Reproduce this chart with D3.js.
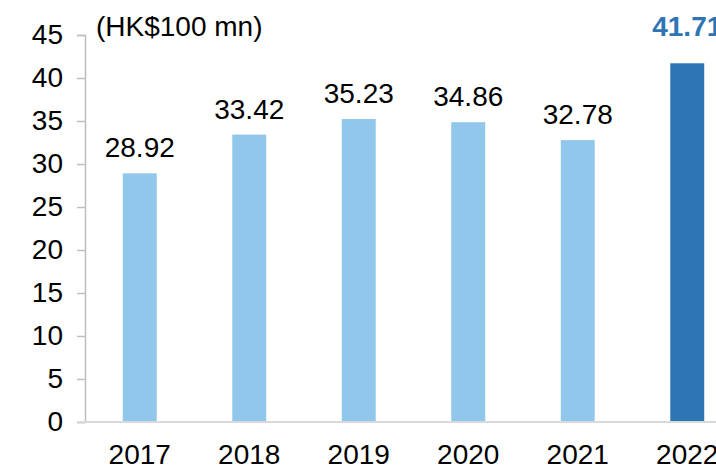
<!DOCTYPE html>
<html>
<head>
<meta charset="utf-8">
<script src="https://cdn.jsdelivr.net/npm/d3@7"></script>
<style>
  body { margin: 0; background: #fff; }
  svg { display: block; font-family: "Liberation Sans", Arial, sans-serif; }
</style>
</head>
<body>
<div id="chart"></div>
<script>
const years = ['2017', '2018', '2019', '2020', '2021', '2022']
const values = [28.92, 33.42, 35.23, 34.86, 32.78, 41.71]
const yTicks = [0, 5, 10, 15, 20, 25, 30, 35, 40, 45]
const unitLabel = '(HK$100 mn)'

const width = 716,
      height = 470,
      plotLeft = 85,
      plotTop = 35,
      plotBottom = 422,
      step = 109.5,
      fontSize = 28

const xScale = d3.scaleBand()
                 .domain(years)
                 .range([plotLeft, plotLeft + step * years.length])
                 .paddingInner(0.69)
                 .paddingOuter(0.345)

const yScale = d3.scaleLinear()
                 .domain([0, 45])
                 .range([plotBottom, plotTop])

const svg = d3.select('#chart')
              .append('svg')
              .attr('width', width)
              .attr('height', height)

// bars
svg.selectAll('rect')
   .data(values)
   .enter()
   .append('rect')
   .attr('x', (d, i) => xScale(years[i]))
   .attr('y', d => yScale(d))
   .attr('width', xScale.bandwidth())
   .attr('height', d => plotBottom - yScale(d))
   .attr('fill', (d, i) => i === years.length - 1 ? '#2E75B6' : '#92C7EC')

// y axis
const yAxis = d3.axisLeft(yScale)
                .tickValues(yTicks)
                .tickSize(8)
                .tickPadding(14)
svg.append('g')
   .attr('transform', 'translate(' + plotLeft + ',0)')
   .call(yAxis)
   .call(g => {
     g.select('.domain').attr('stroke', '#bfbfbf').attr('stroke-width', 1.5)
     g.selectAll('.tick line').attr('stroke', '#bfbfbf').attr('stroke-width', 1.5)
     g.selectAll('.tick text').attr('font-size', fontSize).attr('fill', '#000').attr('font-family', null)
   })

// x axis
const xAxis = d3.axisBottom(xScale).tickSize(0).tickPadding(22)
svg.append('g')
   .attr('transform', 'translate(0,' + plotBottom + ')')
   .call(xAxis)
   .call(g => {
     g.select('.domain').remove()
     g.selectAll('.tick text').attr('font-size', fontSize).attr('fill', '#000').attr('font-family', null)
   })
svg.append('line')
   .attr('x1', plotLeft - 8).attr('x2', width)
   .attr('y1', plotBottom).attr('y2', plotBottom)
   .attr('stroke', '#d9d9d9').attr('stroke-width', 2)

// value labels
svg.selectAll('.value')
   .data(values)
   .enter()
   .append('text')
   .attr('class', 'value')
   .attr('x', (d, i) => xScale(years[i]) + xScale.bandwidth() / 2)
   .attr('y', (d, i) => yScale(d) - (i === years.length - 1 ? 27 : 16))
   .attr('text-anchor', 'middle')
   .attr('font-size', fontSize)
   .attr('font-weight', (d, i) => i === years.length - 1 ? 'bold' : 'normal')
   .attr('fill', (d, i) => i === years.length - 1 ? '#2E75B6' : '#000')
   .text(d => d.toFixed(2))

// unit label
svg.append('text')
   .attr('x', 96)
   .attr('y', 36)
   .attr('font-size', fontSize)
   .text(unitLabel)
</script>
</body>
</html>
